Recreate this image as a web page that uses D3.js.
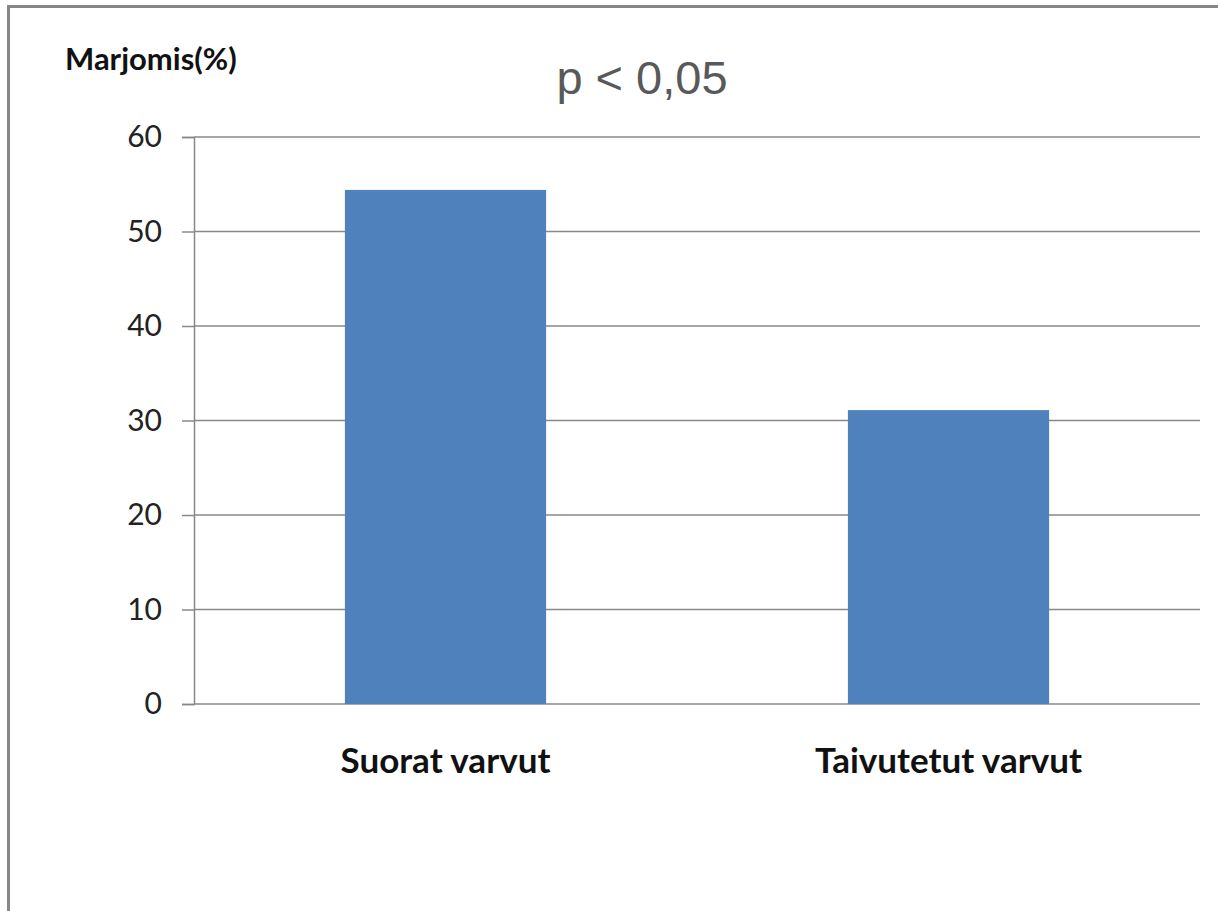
<!DOCTYPE html>
<html>
<head>
<meta charset="utf-8">
<script src="https://cdn.jsdelivr.net/npm/d3@7"></script>
<style>
  body { margin: 0; background: #fff; }
  svg { display: block; }
</style>
</head>
<body>
<div id="chart"></div>
<script>
// data
const categories = ["Suorat varvut", "Taivutetut varvut"];
const values = [54.4, 31.1];
const yTicks = [0, 10, 20, 30, 40, 50, 60];

const width = 1218;
const height = 911;
const margin = { top: 137, right: 18, bottom: 207, left: 194 };

const svg = d3
  .select("#chart")
  .append("svg")
  .attr("width", width)
  .attr("height", height);

// frame (top + left only)
svg.append("line")
  .attr("x1", 7).attr("x2", width).attr("y1", 6.5).attr("y2", 6.5)
  .attr("stroke", "#878787").attr("stroke-width", 3);
svg.append("line")
  .attr("x1", 8.5).attr("x2", 8.5).attr("y1", 5).attr("y2", height)
  .attr("stroke", "#878787").attr("stroke-width", 3);

const x = d3
  .scaleBand()
  .domain(categories)
  .range([margin.left, width - margin.right])
  .paddingInner(0.6)
  .paddingOuter(0.3);

const y = d3
  .scaleLinear()
  .domain([0, 60])
  .range([height - margin.bottom, margin.top]);

// gridlines + ticks
const yAxis = svg
  .append("g")
  .attr("transform", `translate(${margin.left},0)`)
  .call(
    d3.axisLeft(y)
      .tickValues(yTicks)
      .tickSize(12)
      .tickFormat(d3.format("d"))
  );
yAxis.select(".domain").attr("stroke", "#888").attr("stroke-width", 1.5);
yAxis.selectAll(".tick line").attr("stroke", "#888").attr("stroke-width", 1.5);
yAxis.selectAll(".tick text")
  .attr("x", -32)
  .style("font-family", "Lato, 'Open Sans', sans-serif")
  .style("font-size", "30px")
  .attr("fill", "#222");

svg.append("g")
  .selectAll("line")
  .data(yTicks)
  .join("line")
  .attr("x1", margin.left)
  .attr("x2", width - margin.right)
  .attr("y1", (d) => y(d))
  .attr("y2", (d) => y(d))
  .attr("stroke", "#888")
  .attr("stroke-width", 1.5);

// bars
svg.append("g")
  .selectAll("rect")
  .data(values)
  .join("rect")
  .attr("x", (d, i) => x(categories[i]))
  .attr("y", (d) => y(d))
  .attr("width", x.bandwidth())
  .attr("height", (d) => y(0) - y(d))
  .attr("fill", "#4F81BD");

// category labels
svg.append("g")
  .selectAll("text")
  .data(categories)
  .join("text")
  .attr("x", (d) => x(d) + x.bandwidth() / 2)
  .attr("y", 773)
  .attr("text-anchor", "middle")
  .style("font-family", "Lato, 'Open Sans', sans-serif")
  .style("font-weight", "bold")
  .style("font-size", "35px")
  .attr("fill", "#111")
  .text((d) => d);

// axis title
svg.append("text")
  .attr("x", 65)
  .attr("y", 70)
  .style("font-family", "Lato, 'Open Sans', sans-serif")
  .style("font-weight", "bold")
  .style("font-size", "31px")
  .attr("fill", "#111")
  .text("Marjomis(%)");

// significance note
svg.append("text")
  .attr("x", 642)
  .attr("y", 94)
  .attr("text-anchor", "middle")
  .style("font-family", "'Liberation Sans', Arial, sans-serif")
  .style("font-size", "47px")
  .attr("fill", "#595959")
  .text("p < 0,05");
</script>
</body>
</html>
